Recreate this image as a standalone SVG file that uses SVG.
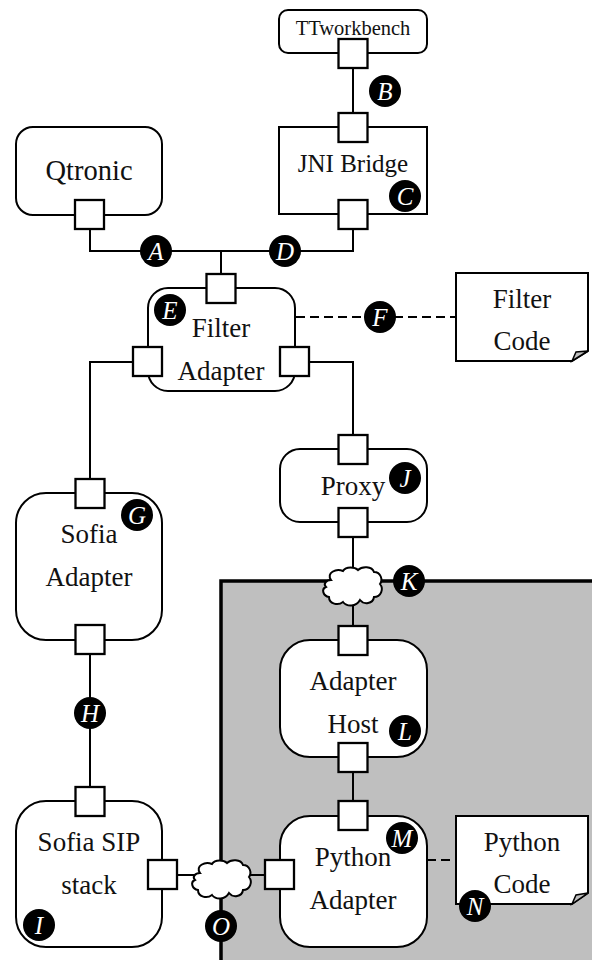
<svg xmlns="http://www.w3.org/2000/svg" width="592" height="960" viewBox="0 0 592 960">
<defs>
<style>
.n{fill:#fff;stroke:#000;stroke-width:2}
.p{fill:#fff;stroke:#000;stroke-width:2.300}
.c{fill:none;stroke:#000;stroke-width:2}
.d{stroke-dasharray:9 5}
.t{font-family:"Liberation Serif",serif;font-size:27px;fill:#111;text-anchor:middle}
.b{fill:#000}
.bt{font-family:"Liberation Serif",serif;font-size:25px;font-style:italic;fill:#fff;text-anchor:middle}
.f{fill:#bfbfbf;stroke:#000;stroke-width:1.500}
</style>
<path id="cloud" d="M8 13C3 6 13 1 20 4C23 -1 32 0 35 3C39 -1 49 -1 51 5C58 5 60 13 57 17C61 22 58 30 51 30C50 37 41 38 37 33C33 40 24 40 20 35C15 39 6 37 6 30C0 29 -2 22 3 20C0 17 3 13 8 13Z" fill="#fff" stroke="#000" stroke-width="2"/>
</defs>
<rect id="boundary" x="221" y="581" width="373" height="381" fill="#bfbfbf" stroke="#000" stroke-width="3.500"/>
<g id="connectors">
<path class="c" d="M353 68V112"/>
<path class="c" d="M90 230V251H353V230"/>
<path class="c" d="M221 251V274"/>
<path class="c" d="M133 362H90V478"/>
<path class="c" d="M309 362H353V435"/>
<path class="c" d="M353 537V625"/>
<path class="c" d="M90 655V787"/>
<path class="c" d="M353 772V801"/>
<path class="c" d="M177 875H265"/>
<path class="c d" d="M296 317H456"/>
<path class="c d" d="M427 860H456"/>
</g>
<g id="ttworkbench"><rect class="n" x="279" y="10" width="148" height="43" rx="9"/><text class="t" x="353" y="35" style="font-size:20.500px">TTworkbench</text><rect class="p" x="338.500" y="39" width="29" height="29"/></g>
<g id="jni"><rect class="n" x="279" y="127" width="148" height="87"/><text class="t" x="353" y="172" style="font-size:25px">JNI Bridge</text><rect class="p" x="338.500" y="113" width="29" height="29"/><rect class="p" x="338.500" y="200" width="29" height="29"/></g>
<g id="qtronic"><rect class="n" x="16" y="127" width="146" height="88" rx="17"/><text class="t" x="89" y="180" style="font-size:28.500px">Qtronic</text><rect class="p" x="75" y="200" width="29" height="29"/></g>
<g id="filter-adapter"><rect class="n" x="148" y="288" width="147" height="103" rx="20"/><text class="t" x="221" y="337">Filter</text><text class="t" x="221" y="380">Adapter</text><rect class="p" x="206.500" y="274" width="29" height="29"/><rect class="p" x="133" y="347" width="29" height="29"/><rect class="p" x="280" y="347" width="29" height="29"/></g>
<g id="filter-code"><path class="n" d="M456 273H588V351L572 361H456Z"/><path class="f" d="M572 361L576 352L588 351Z"/><text class="t" x="522" y="308">Filter</text><text class="t" x="522" y="350">Code</text></g>
<g id="sofia-adapter"><rect class="n" x="16" y="493" width="146" height="147" rx="30"/><text class="t" x="89" y="543">Sofia</text><text class="t" x="89" y="586">Adapter</text><rect class="p" x="75.500" y="479" width="29" height="29"/><rect class="p" x="75.500" y="625" width="29" height="29"/></g>
<g id="proxy"><rect class="n" x="280" y="449" width="147" height="73" rx="20"/><text class="t" x="353" y="495">Proxy</text><rect class="p" x="338.500" y="435" width="29" height="29"/><rect class="p" x="338.500" y="508" width="29" height="29"/></g>
<g id="adapter-host"><rect class="n" x="280" y="640" width="147" height="117" rx="30"/><text class="t" x="353" y="690">Adapter</text><text class="t" x="353" y="733">Host</text><rect class="p" x="338.500" y="626" width="29" height="29"/><rect class="p" x="338.500" y="743" width="29" height="29"/></g>
<g id="sofia-sip"><rect class="n" x="16" y="801" width="146" height="146" rx="30"/><text class="t" x="89" y="851">Sofia SIP</text><text class="t" x="89" y="894">stack</text><rect class="p" x="75.500" y="787" width="29" height="29"/><rect class="p" x="148" y="860" width="29" height="29"/></g>
<g id="python-adapter"><rect class="n" x="280" y="816" width="147" height="131" rx="30"/><text class="t" x="353" y="866">Python</text><text class="t" x="353" y="909">Adapter</text><rect class="p" x="338.500" y="801" width="29" height="29"/><rect class="p" x="265" y="860" width="29" height="29"/></g>
<g id="python-code"><path class="n" d="M456 816H588V893L572 904H456Z"/><path class="f" d="M572 904L576 895L588 893Z"/><text class="t" x="522" y="851">Python</text><text class="t" x="522" y="893">Code</text></g>
<g id="cloud-k"><use href="#cloud" x="323" y="567"/></g>
<g id="cloud-o"><use href="#cloud" x="192" y="860"/></g>
<g id="badges">
<circle class="b" cx="156" cy="251" r="16"/><text class="bt" x="156" y="260">A</text>
<circle class="b" cx="385" cy="91" r="16"/><text class="bt" x="385" y="100">B</text>
<circle class="b" cx="405" cy="196" r="16"/><text class="bt" x="405" y="205">C</text>
<circle class="b" cx="285" cy="251" r="16"/><text class="bt" x="285" y="260">D</text>
<circle class="b" cx="170" cy="310" r="16"/><text class="bt" x="170" y="319">E</text>
<circle class="b" cx="380" cy="317" r="16"/><text class="bt" x="380" y="326">F</text>
<circle class="b" cx="137" cy="515" r="16"/><text class="bt" x="137" y="524">G</text>
<circle class="b" cx="90" cy="713" r="16"/><text class="bt" x="90" y="722">H</text>
<circle class="b" cx="39" cy="925" r="16"/><text class="bt" x="39" y="934">I</text>
<circle class="b" cx="405" cy="478" r="16"/><text class="bt" x="405" y="487">J</text>
<circle class="b" cx="409" cy="581" r="16"/><text class="bt" x="409" y="590">K</text>
<circle class="b" cx="405" cy="731" r="16"/><text class="bt" x="405" y="740">L</text>
<circle class="b" cx="402" cy="838" r="16"/><text class="bt" x="402" y="847">M</text>
<circle class="b" cx="475" cy="906" r="16"/><text class="bt" x="475" y="915">N</text>
<circle class="b" cx="221" cy="926" r="16"/><text class="bt" x="221" y="935">O</text>
</g>
</svg>
